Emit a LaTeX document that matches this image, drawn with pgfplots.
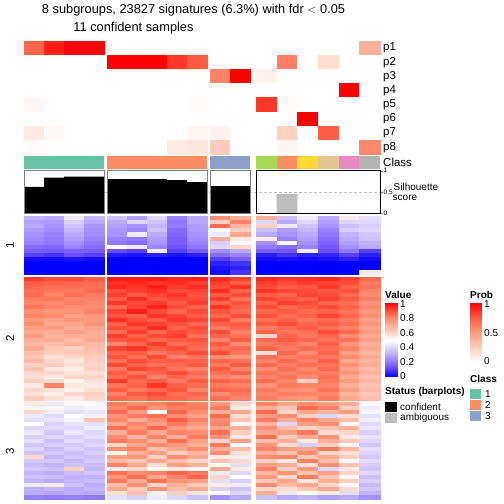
\documentclass[border=0pt]{standalone}
\usepackage{pgfplots}
\usepackage{pgfplotstable}
\pgfplotsset{compat=1.18}
\usepackage{fontspec}
\setmainfont{Liberation Sans}
\pgfplotsset{
  colormap={bwr}{rgb255=(0,0,255) rgb255=(110,80,255) rgb255=(165,145,255) rgb255=(215,205,255) rgb255=(255,255,255) rgb255=(255,205,188) rgb255=(255,155,128) rgb255=(255,95,68) rgb255=(255,0,0)},
  colormap={wr}{rgb255=(255,255,255) rgb255=(255,205,188) rgb255=(255,155,128) rgb255=(255,95,68) rgb255=(255,0,0)},
  cell/.style 2 args={scatter, only marks, point meta=explicit, mark=square*, mark size=10pt,
    mark options={xscale=#1/20, yscale=#2/20, line width=0.3pt},
    scatter/use mapped color={draw=mapped color, fill=mapped color}},
}
\definecolor{c1}{RGB}{102,194,165}
\definecolor{c2}{RGB}{252,141,98}
\definecolor{c3}{RGB}{141,160,203}
\definecolor{c4}{RGB}{166,216,84}
\definecolor{c5}{RGB}{255,217,47}
\definecolor{c6}{RGB}{229,196,148}
\definecolor{c7}{RGB}{231,138,195}
\definecolor{c8}{RGB}{179,179,179}
\definecolor{amb}{RGB}{190,190,190}
% columns: group1 (4) | group2 (5) | group3 (2) | unassigned (6)
\pgfplotstableread[header=false]{
0.72 0.92 1 1   0 0 0 0 0            0 0       0 0 0 0 0 0.40
0 0 0 0         1 1 1 0.85 0.76      0 0       0 0.62 0 0.17 0 0
0 0 0 0         0 0 0 0 0            0.60 1    0.07 0 0 0 0 0
0 0 0 0         0 0 0 0 0            0 0       0 0 0 0 1 0
0.05 0 0 0      0 0 0 0 0.02         0 0       0.85 0.02 0 0 0 0
0 0 0 0         0 0 0 0 0            0 0       0 0 1 0 0 0
0.10 0.03 0 0   0 0 0 0 0.05         0.07 0    0 0.22 0 0.75 0 0
0.03 0 0 0      0 0 0 0.10 0.12      0.25 0    0 0.05 0 0 0 0.58
}\Prob
\pgfplotstableread[header=false]{
0.32 0.30 0.45 0.33  0.35 0.28 0.40 0.22 0.30  0.78 0.70  0.70 0.35 0.45 0.30 0.55 0.42
0.28 0.27 0.38 0.30  0.30 0.40 0.36 0.20 0.30  0.62 0.80  0.40 0.30 0.40 0.28 0.40 0.40
0.30 0.25 0.35 0.26  0.28 0.25 0.33 0.21 0.28  0.85 0.68  0.62 0.45 0.35 0.25 0.35 0.38
0.27 0.24 0.33 0.25  0.26 0.23 0.35 0.18 0.27  0.50 0.62  0.35 0.28 0.33 0.22 0.38 0.40
0.25 0.22 0.30 0.24  0.25 0.45 0.30 0.17 0.25  0.45 0.72  0.30 0.25 0.30 0.20 0.32 0.36
0.24 0.21 0.28 0.22  0.22 0.20 0.28 0.15 0.24  0.70 0.55  0.55 0.22 0.28 0.18 0.30 0.35
0.22 0.20 0.25 0.20  0.20 0.18 0.26 0.15 0.22  0.38 0.48  0.25 0.48 0.25 0.16 0.28 0.32
0.18 0.17 0.22 0.18  0.50 0.45 0.23 0.13 0.20  0.40 0.60  0.20 0.18 0.22 0.14 0.25 0.30
0.15 0.14 0.16 0.15  0.12 0.10 0.46 0.10 0.15  0.25 0.30  0.15 0.14 0.45 0.12 0.20 0.10
0.10 0.08 0.12 0.10  0.04 0.03 0.05 0.03 0.05  0.18 0.22  0.05 0.08 0.05 0.06 0.10 0.05
0.02 0.02 0.03 0.02  0 0 0 0 0                 0.10 0.15  0.02 0.03 0.02 0.03 0.05 0.02
0 0 0 0              0 0 0 0 0                 0.05 0.08  0 0 0 0 0 0
0 0 0 0              0 0 0 0 0                 0.03 0.05  0 0 0 0 0 0
0 0 0 0              0 0 0 0 0                 0.02 0.08  0 0 0 0 0 0.45
}\Rone
\pgfplotstableread[header=false]{
0.92 0.90 0.90 0.88  0.97 0.96 0.97 0.95 0.96  0.95 0.92  0.95 0.93 0.94 0.95 0.92 0.85
0.88 0.87 0.86 0.85  0.94 0.95 0.93 0.94 0.92  0.92 0.88  0.92 0.90 0.92 0.91 0.90 0.82
0.86 0.84 0.85 0.84  0.95 0.93 0.96 0.92 0.94  0.90 0.93  0.90 0.88 0.89 0.93 0.87 0.83
0.84 0.83 0.82 0.85  0.90 0.92 0.94 0.90 0.91  0.94 0.86  0.93 0.91 0.90 0.88 0.89 0.80
0.85 0.80 0.84 0.82  0.92 0.88 0.91 0.93 0.89  0.88 0.90  0.88 0.86 0.91 0.90 0.85 0.78
0.82 0.82 0.80 0.80  0.88 0.94 0.89 0.91 0.90  0.92 0.84  0.91 0.89 0.87 0.92 0.88 0.81
0.80 0.78 0.81 0.79  0.93 0.90 0.92 0.88 0.92  0.86 0.89  0.87 0.92 0.90 0.86 0.84 0.77
0.83 0.80 0.78 0.78  0.86 0.91 0.95 0.90 0.87  0.93 0.87  0.90 0.85 0.88 0.90 0.87 0.79
0.78 0.76 0.77 0.80  0.91 0.96 0.90 0.86 0.90  0.89 0.85  0.86 0.88 0.85 0.87 0.83 0.76
0.80 0.79 0.74 0.76  0.89 0.87 0.93 0.91 0.88  0.85 0.90  0.89 0.84 0.87 0.91 0.86 0.78
0.76 0.74 0.76 0.75  0.94 0.90 0.88 0.93 0.91  0.91 0.82  0.84 0.87 0.83 0.85 0.82 0.74
0.78 0.72 0.73 0.77  0.87 0.93 0.91 0.89 0.86  0.87 0.88  0.88 0.90 0.86 0.88 0.84 0.76
0.74 0.75 0.70 0.73  0.90 0.89 0.94 0.87 0.90  0.82 0.86  0.82 0.85 0.88 0.84 0.80 0.73
0.72 0.70 0.74 0.71  0.85 0.92 0.86 0.90 0.88  0.90 0.80  0.87 0.83 0.84 0.90 0.85 0.75
0.75 0.68 0.70 0.70  0.92 0.87 0.90 0.92 0.84  0.86 0.84  0.60 0.86 0.82 0.86 0.78 0.72
0.70 0.72 0.67 0.72  0.88 0.90 0.85 0.88 0.89  0.80 0.88  0.85 0.88 0.86 0.83 0.83 0.74
0.68 0.66 0.69 0.68  0.80 0.86 0.92 0.84 0.87  0.88 0.78  0.81 0.84 0.80 0.88 0.76 0.70
0.71 0.64 0.62 0.66  0.91 0.93 0.88 0.90 0.85  0.84 0.85  0.86 0.82 0.85 0.84 0.80 0.72
0.66 0.62 0.64 0.65  0.86 0.88 0.82 0.86 0.90  0.90 0.82  0.58 0.86 0.78 0.86 0.74 0.68
0.64 0.58 0.60 0.63  0.89 0.84 0.90 0.80 0.83  0.78 0.76  0.84 0.80 0.83 0.82 0.78 0.71
0.67 0.60 0.55 0.62  0.84 0.90 0.87 0.88 0.86  0.86 0.84  0.80 0.85 0.80 0.87 0.72 0.69
0.62 0.63 0.58 0.60  0.90 0.86 0.84 0.85 0.88  0.82 0.88  0.85 0.81 0.84 0.83 0.77 0.70
0.65 0.56 0.54 0.62  0.82 0.91 0.89 0.83 0.80  0.88 0.80  0.78 0.84 0.79 0.85 0.73 0.67
0.60 0.60 0.57 0.58  0.88 0.83 0.86 0.90 0.85  0.84 0.86  0.83 0.80 0.82 0.81 0.76 0.69
0.58 0.55 0.60 0.60  0.85 0.89 0.80 0.86 0.82  0.80 0.78  0.80 0.83 0.78 0.84 0.71 0.66
0.62 0.58 0.52 0.57  0.92 0.85 0.88 0.82 0.88  0.87 0.84  0.84 0.79 0.62 0.82 0.75 0.68
0.55 0.80 0.56 0.55  0.83 0.87 0.93 0.87 0.84  0.82 0.80  0.77 0.82 0.80 0.80 0.70 0.65
0.60 0.57 0.53 0.58  0.88 0.82 0.85 0.89 0.80  0.86 0.85  0.82 0.78 0.77 0.83 0.74 0.67
0.57 0.54 0.60 0.62  0.80 0.88 0.90 0.84 0.86  0.78 0.82  0.79 0.81 0.80 0.79 0.69 0.64
0.63 0.58 0.55 0.60  0.86 0.84 0.87 0.86 0.83  0.84 0.80  0.81 0.77 0.76 0.82 0.72 0.66
}\Rtwo
\pgfplotstableread[header=false]{
0.55 0.45 0.48 0.50  0.82 0.78 0.80 0.84 0.80  0.75 0.60  0.80 0.72 0.78 0.75 0.70 0.50
0.48 0.52 0.45 0.47  0.78 0.85 0.76 0.80 0.82  0.82 0.55  0.70 0.65 0.85 0.80 0.62 0.45
0.60 0.46 0.42 0.44  0.85 0.75 0.50 0.86 0.78  0.70 0.72  0.85 0.60 0.72 0.68 0.75 0.48
0.45 0.40 0.50 0.46  0.76 0.82 0.84 0.78 0.74  0.85 0.58  0.75 0.78 0.62 0.40 0.58 0.42
0.42 0.44 0.47 0.65  0.80 0.70 0.78 0.88 0.80  0.78 0.65  0.82 0.70 0.80 0.72 0.66 0.46
0.50 0.38 0.43 0.42  0.72 0.80 0.74 0.82 0.76  0.80 0.52  0.68 0.40 0.74 0.78 0.52 0.40
0.40 0.42 0.40 0.45  0.84 0.76 0.86 0.75 0.72  0.72 0.70  0.78 0.66 0.60 0.65 0.70 0.44
0.44 0.36 0.44 0.40  0.70 0.82 0.72 0.80 0.78  0.84 0.62  0.72 0.74 0.82 0.58 0.60 0.38
0.38 0.40 0.38 0.42  0.78 0.68 0.80 0.70 0.82  0.76 0.56  0.84 0.62 0.70 0.76 0.55 0.43
0.42 0.35 0.41 0.38  0.82 0.78 0.70 0.84 0.74  0.60 0.74  0.66 0.70 0.55 0.70 0.64 0.40
0.36 0.38 0.37 0.40  0.60 0.72 0.78 0.76 0.70  0.82 0.50  0.76 0.58 0.38 0.62 0.48 0.36
0.40 0.34 0.39 0.36  0.78 0.80 0.66 0.72 0.78  0.70 0.66  0.80 0.75 0.72 0.82 0.68 0.42
0.35 0.37 0.35 0.38  0.52 0.70 0.74 0.62 0.68  0.78 0.58  0.70 0.65 0.78 0.60 0.58 0.39
0.60 0.33 0.36 0.35  0.74 0.76 0.62 0.78 0.72  0.55 0.45  0.78 0.80 0.64 0.72 0.62 0.37
0.37 0.36 0.33 0.37  0.68 0.64 0.72 0.66 0.60  0.65 0.60  0.62 0.55 0.80 0.66 0.50 0.41
0.34 0.32 0.35 0.34  0.80 0.72 0.58 0.74 0.70  0.50 0.42  0.74 0.70 0.58 0.78 0.65 0.38
0.36 0.35 0.62 0.33  0.45 0.60 0.50 0.55 0.48  0.72 0.55  0.80 0.62 0.75 0.40 0.56 0.36
0.33 0.31 0.34 0.36  0.84 0.78 0.80 0.86 0.82  0.45 0.40  0.68 0.76 0.66 0.74 0.60 0.40
0.35 0.34 0.32 0.32  0.76 0.84 0.72 0.80 0.86  0.60 0.50  0.75 0.60 0.82 0.64 0.52 0.35
0.32 0.30 0.33 0.34  0.82 0.70 0.84 0.76 0.74  0.42 0.38  0.64 0.72 0.56 0.70 0.62 0.38
0.45 0.55 0.35 0.31  0.66 0.78 0.60 0.70 0.64  0.55 0.45  0.78 0.66 0.72 0.60 0.48 0.34
0.31 0.33 0.30 0.33  0.72 0.62 0.76 0.66 0.72  0.38 0.35  0.60 0.58 0.64 0.72 0.58 0.36
0.30 0.29 0.31 0.30  0.58 0.66 0.54 0.62 0.56  0.48 0.40  0.70 0.45 0.50 0.55 0.42 0.32
0.22 0.20 0.22 0.20  0.42 0.38 0.45 0.40 0.35  0.25 0.30  0.35 0.30 0.32 0.28 0.30 0.25
}\Rthree
\newcommand\clsbox[3]{\addplot[fill=#3, draw=none] coordinates {(#1,156) (#2,156) (#2,168.5) (#1,168.5)} --cycle;}
\newcommand\lab[3]{\node[anchor=west, font=\fontsize{#3}{#3}\selectfont, inner sep=0pt] at (axis cs:#1) {#2};}
\newcommand\blab[2]{\node[anchor=west, font=\bfseries\fontsize{10}{11}\selectfont, inner sep=0pt] at (axis cs:#1) {#2};}
\begin{document}
\begin{tikzpicture}
\useasboundingbox (0,0) rectangle (504pt,504pt);
\begin{axis}[at={(0pt,0pt)}, anchor=south west, width=504pt, height=504pt, scale only axis,
  xmin=0, xmax=504, ymin=0, ymax=504, y dir=reverse, hide axis, clip=false,
  point meta min=0, point meta max=1, colormap name=bwr]
% ---- probability annotation p1..p8
\pgfplotsinvokeforeach{0,...,3}{\addplot[cell={20}{14.16}, colormap name=wr] table[x expr={34+20*#1}, y expr={41+14.16*(\coordindex+0.5)}, meta index=#1] \Prob;}
\pgfplotsinvokeforeach{4,...,8}{\addplot[cell={20}{14.16}, colormap name=wr] table[x expr={117+20*(#1-4)}, y expr={41+14.16*(\coordindex+0.5)}, meta index=#1] \Prob;}
\pgfplotsinvokeforeach{9,10}{\addplot[cell={20}{14.16}, colormap name=wr] table[x expr={220+20*(#1-9)}, y expr={41+14.16*(\coordindex+0.5)}, meta index=#1] \Prob;}
\pgfplotsinvokeforeach{11,...,16}{\addplot[cell={20.667}{14.16}, colormap name=wr] table[x expr={266.33+20.667*(#1-11)}, y expr={41+14.16*(\coordindex+0.5)}, meta index=#1] \Prob;}
% ---- class row
\clsbox{24}{104}{c1}
\clsbox{107}{207}{c2}
\clsbox{210}{250}{c3}
\clsbox{256}{276.67}{c4}
\clsbox{276.67}{297.33}{c2}
\clsbox{297.33}{318}{c5}
\clsbox{318}{338.67}{c6}
\clsbox{338.67}{359.33}{c7}
\clsbox{359.33}{380}{c8}
% ---- heatmap, row block 1
\pgfplotsinvokeforeach{0,...,3}{\addplot[cell={20}{4.143}] table[x expr={34+20*#1}, y expr={216+4.143*(\coordindex+0.5)}, meta index=#1] \Rone;}
\pgfplotsinvokeforeach{4,...,8}{\addplot[cell={20}{4.143}] table[x expr={117+20*(#1-4)}, y expr={216+4.143*(\coordindex+0.5)}, meta index=#1] \Rone;}
\pgfplotsinvokeforeach{9,10}{\addplot[cell={20}{4.143}] table[x expr={220+20*(#1-9)}, y expr={216+4.143*(\coordindex+0.5)}, meta index=#1] \Rone;}
\pgfplotsinvokeforeach{11,...,16}{\addplot[cell={20.667}{4.143}] table[x expr={266.33+20.667*(#1-11)}, y expr={216+4.143*(\coordindex+0.5)}, meta index=#1] \Rone;}
% ---- heatmap, row block 2
\pgfplotsinvokeforeach{0,...,3}{\addplot[cell={20}{4.11}] table[x expr={34+20*#1}, y expr={276.7+4.11*(\coordindex+0.5)}, meta index=#1] \Rtwo;}
\pgfplotsinvokeforeach{4,...,8}{\addplot[cell={20}{4.11}] table[x expr={117+20*(#1-4)}, y expr={276.7+4.11*(\coordindex+0.5)}, meta index=#1] \Rtwo;}
\pgfplotsinvokeforeach{9,10}{\addplot[cell={20}{4.11}] table[x expr={220+20*(#1-9)}, y expr={276.7+4.11*(\coordindex+0.5)}, meta index=#1] \Rtwo;}
\pgfplotsinvokeforeach{11,...,16}{\addplot[cell={20.667}{4.11}] table[x expr={266.33+20.667*(#1-11)}, y expr={276.7+4.11*(\coordindex+0.5)}, meta index=#1] \Rtwo;}
% ---- heatmap, row block 3
\pgfplotsinvokeforeach{0,...,3}{\addplot[cell={20}{4.02}] table[x expr={34+20*#1}, y expr={402.5+4.02*(\coordindex+0.5)}, meta index=#1] \Rthree;}
\pgfplotsinvokeforeach{4,...,8}{\addplot[cell={20}{4.02}] table[x expr={117+20*(#1-4)}, y expr={402.5+4.02*(\coordindex+0.5)}, meta index=#1] \Rthree;}
\pgfplotsinvokeforeach{9,10}{\addplot[cell={20}{4.02}] table[x expr={220+20*(#1-9)}, y expr={402.5+4.02*(\coordindex+0.5)}, meta index=#1] \Rthree;}
\pgfplotsinvokeforeach{11,...,16}{\addplot[cell={20.667}{4.02}] table[x expr={266.33+20.667*(#1-11)}, y expr={402.5+4.02*(\coordindex+0.5)}, meta index=#1] \Rthree;}
% ---- legends: colour bars
\addplot[surf, shader=interp, mesh/cols=2, point meta=explicit] coordinates {
(385,376.5)[0] (397,376.5)[0]
(385,367.3)[0.125] (397,367.3)[0.125]
(385,358.1)[0.25] (397,358.1)[0.25]
(385,348.9)[0.375] (397,348.9)[0.375]
(385,339.7)[0.5] (397,339.7)[0.5]
(385,330.5)[0.625] (397,330.5)[0.625]
(385,321.3)[0.75] (397,321.3)[0.75]
(385,312.1)[0.875] (397,312.1)[0.875]
(385,302.9)[1] (397,302.9)[1]};
\addplot[surf, shader=interp, mesh/cols=2, point meta=explicit, colormap name=wr] coordinates {
(470,362)[0] (481,362)[0]
(470,347.2)[0.25] (481,347.2)[0.25]
(470,332.5)[0.5] (481,332.5)[0.5]
(470,317.7)[0.75] (481,317.7)[0.75]
(470,302.9)[1] (481,302.9)[1]};
% legend swatches
\addplot[fill=c1, draw=none] coordinates {(470,388.5) (481,388.5) (481,398.8) (470,398.8)} --cycle;
\addplot[fill=c2, draw=none] coordinates {(470,399.8) (481,399.8) (481,410) (470,410)} --cycle;
\addplot[fill=c3, draw=none] coordinates {(470,411) (481,411) (481,421.3) (470,421.3)} --cycle;
\addplot[fill=black, draw=none] coordinates {(385,401.7) (396.5,401.7) (396.5,412) (385,412)} --cycle;
\addplot[fill=amb, draw=none] coordinates {(385,413) (396.5,413) (396.5,423.3) (385,423.3)} --cycle;
% ---- texts
\node[font=\fontsize{12.8}{14}\selectfont] at (axis cs:193.5,10) {8 subgroups, 23827 signatures (6.3\%) with fdr $<$ 0.05};
\node[font=\fontsize{12.8}{14}\selectfont] at (axis cs:133.5,28) {11 confident samples};
\lab{383,48.08}{p1}{11.5}
\lab{383,62.24}{p2}{11.5}
\lab{383,76.40}{p3}{11.5}
\lab{383,90.56}{p4}{11.5}
\lab{383,104.72}{p5}{11.5}
\lab{383,118.88}{p6}{11.5}
\lab{383,133.04}{p7}{11.5}
\lab{383,147.20}{p8}{11.5}
\lab{383,162.3}{Class}{11.5}
\lab{393.5,187}{Silhouette}{10}
\lab{392.5,198}{score}{10}
\node[rotate=90, font=\fontsize{11.5}{12}\selectfont] at (axis cs:10,245) {1};
\node[rotate=90, font=\fontsize{11.5}{12}\selectfont] at (axis cs:10,338) {2};
\node[rotate=90, font=\fontsize{11.5}{12}\selectfont] at (axis cs:10,451) {3};
\blab{385,295}{Value}
\blab{470,295}{Prob}
\blab{470,379}{Class}
\blab{385,392}{Status (barplots)}
\lab{400,304}{1}{10}
\lab{400,318.5}{0.8}{10}
\lab{400,333}{0.6}{10}
\lab{400,347.5}{0.4}{10}
\lab{400,362}{0.2}{10}
\lab{400,376}{0}{10}
\lab{484,304}{1}{10}
\lab{484,333}{0.5}{10}
\lab{484,361.5}{0}{10}
\lab{485,394}{1}{10}
\lab{485,405}{2}{10}
\lab{485,416}{3}{10}
\lab{400,407}{confident}{10}
\lab{400,418}{ambiguous}{10}
\end{axis}
% ---- silhouette bars
\begin{axis}[at={(24pt,290.7pt)}, anchor=south west, width=356pt, height=42.6pt, scale only axis,
  xmin=24, xmax=380, ymin=0, ymax=1, axis x line=none, axis y line*=right,
  ytick={0,0.5,1}, yticklabels={0,0.5,1}, tick align=outside, major tick length=2.5pt,
  tick label style={font=\fontsize{6.5}{7}\selectfont, inner sep=1pt}, clip=false]
\addplot[densely dashed, gray!50, line width=0.6pt] coordinates {(24,0.5) (380,0.5)};
\addplot[ybar, bar width=20, bar shift=0pt, fill=black, draw=none] coordinates {
(34,0.62) (54,0.84) (74,0.86) (94,0.86)
(117,0.80) (137,0.80) (157,0.80) (177,0.78) (197,0.73)
(220,0.64) (240,0.64)};
\addplot[ybar, bar width=20.667, bar shift=0pt, fill=amb, draw=none] coordinates {
(266.33,0) (287,0.45) (307.67,0) (328.33,0) (349,0) (369.67,0)};
\draw[gray, line width=1pt] (axis cs:24,0) rectangle (axis cs:104,1);
\draw[gray, line width=1pt] (axis cs:107,0) rectangle (axis cs:207,1);
\draw[gray, line width=1pt] (axis cs:210,0) rectangle (axis cs:250,1);
\draw[black, line width=0.8pt] (axis cs:256,0) rectangle (axis cs:380,1);
\end{axis}
\end{tikzpicture}
\end{document}
